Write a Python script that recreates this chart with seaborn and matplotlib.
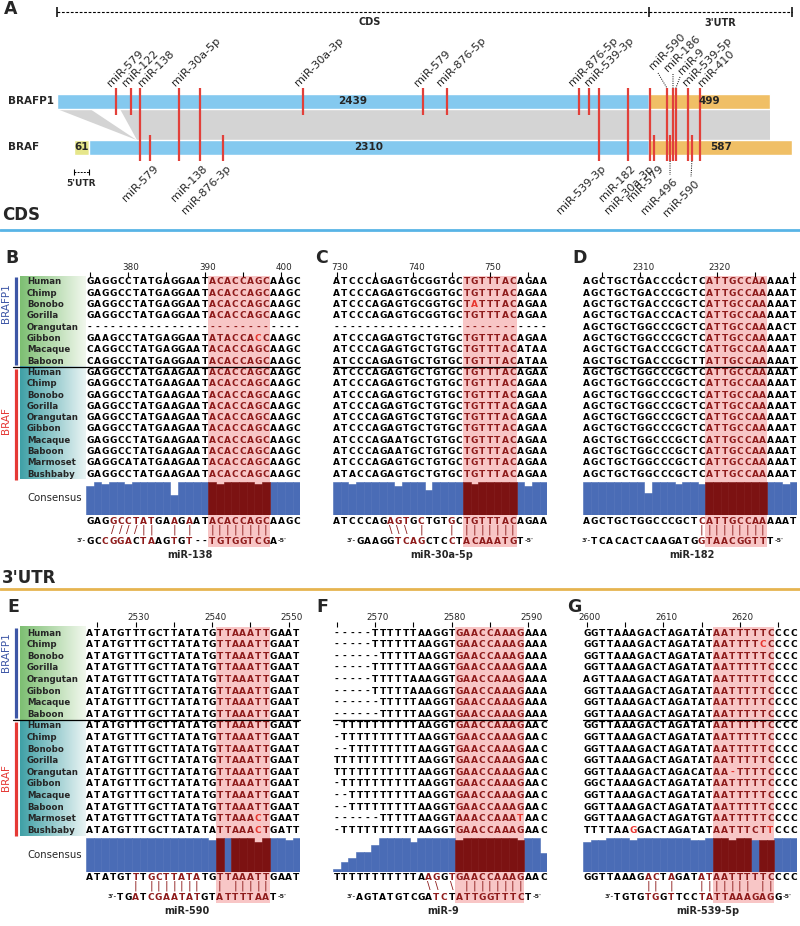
import numpy as np
import pandas as pd
import matplotlib
matplotlib.use("Agg")
import matplotlib.pyplot as plt
import seaborn as sns
from matplotlib.patches import Rectangle, Polygon

sns.set_theme(style="white")
plt.rcParams['font.family'] = ['DejaVu Sans']

# ===================== DATA =====================
# ---- Panel A: transcript structure (nt) ----
braf_part_lengths = [61, 2310, 587]      # 5'UTR, CDS, 3'UTR
brafp1_part_lengths = [2439, 499]        # CDS-like, 3'UTR
brafp1_offset = -70                      # aligned start of BRAFP1 relative to BRAF (nt)

# miRNA sites in aligned (BRAF) nucleotide coordinates
sites_brafp1_only = [173, 235, 944, 1438, 1537, 2081, 2122]
sites_shared = [272, 433, 519, 2163, 2283, 2373, 2443, 2468, 2480, 2530, 2579]
sites_braf_only = [313, 614, 2390, 2456, 2546]
top_labels = ["miR-579", "miR-122", "miR-138", "miR-30a-5p", "miR-30a-3p", "miR-579",
              "miR-876-5p", "miR-876-5p", "miR-539-3p", "miR-590", "miR-186", "miR-9",
              "miR-539-5p", "miR-410"]
top_label_sites = [173, 235, 272, 433, 944, 1438, 1537, 2081, 2122, 2443, 2468, 2480, 2530, 2579]
bottom_labels = ["miR-579", "miR-138", "miR-876-3p", "miR-539-3p", "miR-182", "miR-30a-3p",
                 "miR-579", "miR-496", "miR-590"]
bottom_label_sites = [313, 519, 614, 2163, 2283, 2373, 2390, 2456, 2546]

species_brafp1 = ["Human", "Chimp", "Bonobo", "Gorilla", "Orangutan", "Gibbon", "Macaque", "Baboon"]
species_braf = ["Human", "Chimp", "Bonobo", "Gorilla", "Orangutan", "Gibbon", "Macaque", "Baboon",
                "Marmoset", "Bushbaby"]

# ---- Panel B (miR-138) ----
b_brafp1 = ["GAGGCCTATGAGGAATACACCAGCAAGC", "GAGGCCTATGAGGAATACACCAGCAAGC",
            "GAGGCCTATGAGGAATACACCAGCAAGC", "GAGGCCTATGAGGAATACACCAGCAAGC",
            "----------------------------", "GAAGCCTATGAGGAATATACCACCAAGC",
            "CAGGCCTATGAGGAATACACCAGCAAGC", "CAGGCCTATGAGGAATACACCAGCAAGC"]
b_braf = ["GAGGCCTATGAAGAATACACCAGCAAGC", "GAGGCCTATGAAGAATACACCAGCAAGC",
          "GAGGCCTATGAAGAATACACCAGCAAGC", "GAGGCCTATGAAGAATACACCAGCAAGC",
          "GAGGCCTATGAAGAATACACCAGCAAGC", "GAGGCCTATGAAGAATACACCAGCAAGC",
          "GAGGCCTATGAAGAATACACCAGCAAGC", "GAGGCCTATGAAGAATACACCAGCAAGC",
          "GAGGCATATGAAGAATACACCAGCAAGC", "GAGGCCTATGAAGAATACACCAGCAAGC"]
b_consensus = "GAGGCCTATGAAGAATACACCAGCAAGC"
b_conservation = [0.88, 1, 0.94, 1, 1, 0.94, 1, 1, 1, 1, 1, 0.59, 1, 1, 1, 1, 1, 0.94, 1, 1,
                  1, 1, 0.94, 1, 1, 1, 1, 1]
b_seed_cols = [16, 17, 18, 19, 20, 21, 22, 23]
b_pairs = "   ////||  | |  ||||||||    "
b_mirna = "GCCGGACTAAGTGT--TGTGGTCGA   "
b_name = "miR-138"
b_first_pos = 375
b_red = [(5, 22)]

# ---- Panel C (miR-30a-5p) ----
c_brafp1 = ["ATCCCAGAGTGCGGTGCTGTTTACAGAA", "ATCCCAGAGTGCGGTGCTGTTTACAGAA",
            "ATCCCAGAGTGCGGTGCTATTTACAGAA", "ATCCCAGAGTGCGGTGCTGTTTACAGAA",
            "----------------------------", "ATCCCAGAGTGCTGTGCTGTTTACAGAA",
            "ATCCCAGAGTGCTGTGCTGTTTACATAA", "ATCCCAGAGTGCTGTGCTGTTTACATAA"]
c_braf = ["ATCCCAGAGTGCTGTGCTGTTTACAGAA", "ATCCCAGAGTGCTGTGCTGTTTACAGAA",
          "ATCCCAGAGTGCTGTGCTGTTTACAGAA", "ATCCCAGAGTGCTGTGCTGTTTACAGAA",
          "ATCCCAGAGTGCTGTGCTGTTTACAGAA", "ATCCCAGAGTGCTGTGCTGTTTACAGAA",
          "ATCCCAGAATGCTGTGCTGTTTACAGAA", "ATCCCAGAATGCTGTGCTGTTTACAGAA",
          "ATCCCAGAGTGCTGTGCTGTTTACAGAA", "ATACCAGAGTGCTGTGCTGTTTACAGAA"]
c_consensus = "ATCCCAGAGTGCTGTGCTGTTTACAGAA"
c_conservation = [1, 1, 0.94, 1, 1, 1, 1, 1, 0.88, 1, 1, 1, 0.76, 1, 1, 1, 1, 1, 0.94, 1,
                  1, 1, 1, 1, 1, 0.88, 1, 1]
c_seed_cols = [17, 18, 19, 20, 21, 22, 23]
c_pairs = r"       \\\ |   | |||||||    "
c_mirna = "   GAAGGTCAGCTCCTACAAATGT   "
c_name = "miR-30a-5p"
c_first_pos = 730
c_red = [(2, 18)]

# ---- Panel D (miR-182) ----
d_brafp1 = ["AGCTGCTGACCCGCTCATTGCCAAAAAT", "AGCTGCTGACCCGCTCATTGCCAAAAAT",
            "AGCTGCTGACCCGCTCATTGCCAAAAAT", "AGCTGCTGACCCACTCATTGCCAAAAAT",
            "AGCTGCTGGCCCGCTCATTGCCAAAACT", "AGCTGCTGGCCCGCTCATTGCCAAAAAT",
            "AGCTGCTGACCCGCTCATTGCCAAAAAT", "AGCTGCTGACCCGCTTATTGCCAAAAAT"]
d_braf = ["AGCTGCTGGCCCGCTCATTGCCAAAAAT", "AGCTGCTGGCCCGCTCATTGCCAAAAAT",
          "AGCTGCTGGCCCGCTCATTGCCAAAAAT", "AGCTGCTGGCCCGCTCATTGCCAAAAAT",
          "AGCTGCTGGCCCGCTCATTGCCAAAAAT", "AGCTGCTGGCCCGCTCATTGCCAAAAAT",
          "AGCTGCTGGCCCGCTCATTGCCAAAAAT", "AGCTGCTGGCCCGCTCATTGCCAAAAAT",
          "AGCTGCTGGCCCGCTCATTGCCAAAAAT", "AGCTGCTGGCCCGCTCATTGCCAAAAAT"]
d_consensus = "AGCTGCTGGCCCGCTCATTGCCAAAAAT"
d_conservation = [1, 1, 1, 1, 1, 1, 1, 1, 0.67, 1, 1, 1, 0.94, 1, 1, 0.94, 1, 1, 1, 1,
                  1, 1, 1, 1, 1, 1, 0.94, 1]
d_seed_cols = [16, 17, 18, 19, 20, 21, 22, 23]
d_pairs = "               |||||||||    "
d_mirna = " TCACACTCAAGATGGTAACGGTTT   "
d_name = "miR-182"
d_first_pos = 2303
d_red = []

# ---- Panel E (miR-590) ----
e_brafp1 = ["ATATGTTTGCTTATATGTTAAATTGAAT"] * 0 + [
    "ATATGTTTGCTTATATGTTAAATTGAAT", "ATATGTTTGCTTATATGTTAAATTGAAT",
    "ATATGTTTGCTTATATGTTAAATTGAAT", "ATATGTTTGCTTATATGTTAAATTGAAT",
    "ATATGTTTGCTTATATGTTAAATTGAAT", "ATATGTTTGCTTATATGTTAAATTGAAT",
    "ATATGTTTGCTTATATGTTAAATTGAAT", "ATATGTTTGCTTATATGTTAAATTGAAT"]
e_braf = ["ATATGTTTGCTTATATGTTAAATTGAAT", "ATATGTTTGCTTATATGTTAAATTGAAT",
          "ATATGTTTGCTTATATGTTAAATTGAAT", "ATATGTTTGCTTATATGTTAAATTGAAT",
          "ATATGTTTGCTTATATGTTAAATTGAAT", "ATATGTTTGCTTATATGTTAAATTGAAT",
          "ATATGTTTGCTTATATGTTAAATTGAAT", "ATATGTTTGCTTATATGTTAAATTGAAT",
          "ATATGTTTGCTTATATGTTAAACTGAAT", "ATATGTTTGCTTATATATTAAACTGATT"]
e_consensus = "ATATGTTTGCTTATATGTTAAATTGAAT"
e_conservation = [1, 1, 1, 1, 1, 1, 1, 1, 1, 1, 1, 1, 1, 1, 1, 1, 0.94, 1, 1, 1,
                  1, 1, 0.89, 1, 1, 1, 0.94, 1]
e_seed_cols = [17, 19, 20, 21, 22, 23]
e_pairs = "      | |||||||  | |||||    "
e_mirna = "    TGATCGAATATGTATTTTAAT   "
e_name = "miR-590"
e_first_pos = 2524
e_red = [(16, 22), (17, 22)]

# ---- Panel F (miR-9) ----
f_brafp1 = ["-----TTTTTTAAGGTGAACCAAAGAAA", "-----TTTTTTAAGGTGAACCAAAGAAA",
            "------TTTTTAAGGTGAACCAAAGAAA", "-----TTTTTTAAGGTGAACCAAAGAAA",
            "-----TTTTTAAAGGTGAACCAAAGAAA", "-----TTTTTAAAGGTGAACCAAAGAAA",
            "------TTTTTAAGGTGAACCAAAGAAA", "------TTTTTAAGGTGAACCAAAGAAA"]
f_braf = ["-TTTTTTTTTTAAGGTGAACCAAAGAAC", "-TTTTTTTTTTAAGGTGAACCAAAGAAC",
          "--TTTTTTTTTAAGGTGAACCAAAGAAC", "TTTTTTTTTTTAAGGTGAACCAAAGAAC",
          "TTTTTTTTTTTAAGGTGAACCAAAGAAC", "-TTTTTTTTTTAAGGTGAACCAAAGAAC",
          "--TTTTTTTTTAAGGTGAACCAAAGAAC", "--TTTTTTTTTAAGGTGAACCAAAGAAC",
          "------TTTTTAAGGTAAACCAAATAAC", "-TTTTTTTTTTAAGGTGAACCAAAGAAC"]
f_consensus = "TTTTTTTTTTTAAGGTGAACCAAAGAAC"
f_conservation = [0.08, 0.28, 0.39, 0.59, 0.59, 0.8, 1, 1, 1, 1, 0.89, 1, 1, 1, 1, 1, 0.94, 1,
                  1, 1, 1, 1, 1, 1, 0.94, 1, 1, 0.56]
f_seed_cols = [16, 17, 18, 19, 20, 21, 22, 23, 24]
f_pairs = r"            \\ \ ||||||||   "
f_mirna = "   AGTATGTCGATCTATTGGTTTCT  "
f_name = "miR-9"
f_first_pos = 2565
f_red = [(16, 24)]

# ---- Panel G (miR-539-5p) ----
g_brafp1 = ["GGTTAAAGACTAGATATAATTTTTCCCC", "GGTTAAAGACTAGATATAATTTTCCCCC",
            "GGTTAAAGACTAGATATAATTTTTCCCC", "GGTTAAAGACTAGATATAATTTTTCCCC",
            "AGTTAAAGACTAGATATAATTTTTCCCC", "GGTTAAAGACTAGATATAATTTTTCCCC",
            "GGTTAAAGACTAGATATAATTTTTCCCC", "GGTTAAAGACTAGATATAATTTTTCCCC"]
g_braf = ["GGTTAAAGACTAGATATAATTTTTCCCC", "GGTTAAAGACTAGATATAATTTTTCCCC",
          "GGTTAAAGACTAGATATAATTTTTCCCC", "GGTTAAAGACTAGATATAATTTTTCCCC",
          "GGTTAAAGACTAGACATAA-TTTTCCCC", "GGCTAAAGACTAGATATAATTTTTCCCC",
          "GGTTAAAGACTAGATATAATTTTTCCCC", "GGTTAAAGACTAGATATAATTTTTCCCC",
          "GGTTAAAGACTAGATGTAATTTTTCCCC", "TTTTAAGGACTAGATATAATTTCTTCCC"]
g_consensus = "GGTTAAAGACTAGATATAATTTTTCCCC"
g_conservation = [0.89, 0.94, 0.94, 1, 1, 1, 0.94, 1, 1, 1, 1, 1, 1, 1, 0.94, 0.94, 1, 1,
                  1, 0.94, 1, 1, 0.94, 0.94, 0.94, 1, 1, 1]
g_seed_cols = [17, 18, 19, 20, 21, 23, 24]
g_pairs = "        || |   ||||||| ||   "
g_mirna = "    TGTGTGGTTCCTATTAAAGAGG  "
g_name = "miR-539-5p"
g_first_pos = 2600
g_red = [(1, 23), (12, 19), (17, 6), (17, 24)]

# ===================== STYLE =====================
BLUE_BAR = '#84C9EF'
ORANGE = '#F0BF66'
YELLOW = '#E6E68A'
GREY = '#D4D4D4'
RED_LINE = '#E2403A'
PINK = '#F8C6C6'
DARKRED = '#8E1B1B'
BRIGHT_RED = '#E8352E'
CONS_BLUE = '#4A6CB6'
CONS_DARK = '#7C1212'
P1_BLUE = '#3D56A6'
BRAF_RED = '#E53935'

W, H = 800, 926
fig = plt.figure(figsize=(W / 100, H / 100), dpi=100)


def px_axes(x0, x1, y0, y1):
    a = fig.add_axes([x0 / W, 1 - y1 / H, (x1 - x0) / W, (y1 - y0) / H])
    a.axis('off')
    return a


ax = px_axes(0, W, 0, H)

# ---------- left label boxes ----------
def hgrad(cl, cr, n=128):
    t = np.linspace(0, 1, n)[None, :, None]
    cl = np.array(matplotlib.colors.to_rgb(cl))
    cr = np.array(matplotlib.colors.to_rgb(cr))
    return (1 - t) * cl + t * cr


for (top, sep, bot, y0, dy, cy, p1y, bry) in [(276, 366.7, 479.5, 282, 11.3, 498, 303, 421),
                                              (627, 720.2, 836, 633, 11.6, 855, 652, 778)]:
    ax.imshow(hgrad('#7DBF72', '#F2F8EE'), extent=[20, 86, sep, top], aspect='auto', zorder=0)
    ax.imshow(hgrad('#3FA0A6', '#EAF4F4'), extent=[20, 86, bot, sep], aspect='auto', zorder=0)
    ax.plot([15.5, 15.5], [top + 1, sep - 2], color=P1_BLUE, lw=2.3, solid_capstyle='butt')
    ax.plot([15.5, 15.5], [sep + 2, bot], color=BRAF_RED, lw=2.3, solid_capstyle='butt')
    ax.text(6, p1y, "BRAFP1", rotation=90, color=P1_BLUE, fontsize=7.5, ha='center', va='center')
    ax.text(6, bry, "BRAF", rotation=90, color=BRAF_RED, fontsize=7.5, ha='center', va='center')
    for i, sp in enumerate(species_brafp1 + species_braf):
        ax.text(27, y0 + dy * i, sp, fontsize=6.2, fontweight='bold', ha='left', va='center')
    ax.text(27, cy, "Consensus", fontsize=7.3, ha='left', va='center')

ax.set_xlim(0, W)
ax.set_ylim(H, 0)

# ---------- section headers ----------
ax.text(2, 215.5, "CDS", fontsize=12, fontweight='bold', ha='left', va='center')
ax.plot([0, W], [229.5, 229.5], color='#58B4E6', lw=2)
ax.text(2, 578, "3'UTR", fontsize=12, fontweight='bold', ha='left', va='center')
ax.plot([0, W], [589, 589], color='#E6B450', lw=2)
for letter, lx, ly in [("A", 4, 9), ("B", 5, 258), ("C", 315, 258), ("D", 572, 258),
                       ("E", 7, 607), ("F", 316, 607), ("G", 567, 607)]:
    ax.text(lx, ly, letter, fontsize=12.5, fontweight='bold', ha='left', va='center')

# ===================== PANEL A =====================
S = 0.2427   # px per nt
A_X0 = 74    # px of BRAF nt 0
axA = px_axes(0, W, 0, 240)
axA.set_xlim(-A_X0 / S, (W - A_X0) / S)
axA.set_ylim(240, 0)
dpx = lambda p: p / S

braf_lefts = np.concatenate([[0], np.cumsum(braf_part_lengths)[:-1]])
p1_lefts = brafp1_offset + np.concatenate([[0], np.cumsum(brafp1_part_lengths)[:-1]])
cds_end = braf_lefts[2]
braf_end = braf_lefts[-1] + braf_part_lengths[-1]
p1_end = p1_lefts[-1] + brafp1_part_lengths[-1]

# dashed region ruler
axA.plot([brafp1_offset, cds_end], [11.7, 11.7], color='black', lw=0.8, ls=(0, (2.5, 1.5)))
axA.plot([cds_end, braf_end], [11.7, 11.7], color='black', lw=0.8, ls=(0, (2.5, 1.5)))
axA.vlines([brafp1_offset, cds_end, braf_end], 7, 16.5, color='black', lw=1.1)
axA.text((brafp1_offset + cds_end) / 2 + dpx(16), 22, "CDS", fontsize=7, fontweight='bold',
         ha='center', va='center')
axA.text((cds_end + braf_end) / 2, 22.5, "3'UTR", fontsize=7, fontweight='bold',
         ha='center', va='center')

# grey homology band
axA.add_patch(Polygon([(brafp1_offset, 109), (66, 109), (258, 140)], closed=True,
                      facecolor=GREY, edgecolor='none', zorder=1))
axA.add_patch(Polygon([(190, 109), (p1_end, 109), (p1_end, 140), (258, 140)], closed=True,
                      facecolor=GREY, edgecolor='none', zorder=1))

# transcript bars
axA.barh([101.5] * 2, brafp1_part_lengths, left=p1_lefts, height=15,
         color=[BLUE_BAR, ORANGE], zorder=2)
axA.barh([147.5] * 3, braf_part_lengths, left=braf_lefts, height=15,
         color=[YELLOW, BLUE_BAR, ORANGE], zorder=2)
axA.text(-28, 101.5, "BRAFP1", fontsize=7.5, fontweight='bold', ha='left', va='center',
         transform=axA.transData) if False else None
axA.text(brafp1_offset - dpx(49), 101.5, "BRAFP1", fontsize=7.5, fontweight='bold',
         ha='left', va='center')
axA.text(-dpx(66), 147.5, "BRAF", fontsize=7.5, fontweight='bold', ha='left', va='center')
axA.text(p1_lefts[0] + brafp1_part_lengths[0] / 2, 101.5, str(brafp1_part_lengths[0]),
         fontsize=7.5, fontweight='bold', ha='center', va='center', zorder=4)
axA.text(p1_lefts[1] + brafp1_part_lengths[1] / 2, 101.5, str(brafp1_part_lengths[1]),
         fontsize=7.5, fontweight='bold', ha='center', va='center', zorder=4)
for l, w in zip(braf_lefts, braf_part_lengths):
    axA.text(l + w / 2, 147.5, str(w), fontsize=7.5, fontweight='bold', ha='center',
             va='center', zorder=4)

# 5'UTR bracket
axA.plot([0, braf_part_lengths[0]], [171.7, 171.7], color='black', lw=0.7, ls=(0, (2, 1.2)))
axA.vlines([0, braf_part_lengths[0]], 168.5, 175, color='black', lw=0.8)
axA.text(braf_part_lengths[0] / 2, 183, "5'UTR", fontsize=6.5, fontweight='bold',
         ha='center', va='center')

# miRNA sites
axA.vlines(sites_brafp1_only, 88, 115, color=RED_LINE, lw=1.6, zorder=3)
axA.vlines(sites_shared, 88, 161, color=RED_LINE, lw=1.6, zorder=3)
axA.vlines(sites_braf_only, 135, 161, color=RED_LINE, lw=1.6, zorder=3)

top_dx = [-5, -5, 2, -4, -5, -5, -6, -6, 0, None, None, None, -1, 2]
lead_top = {9: ((653, 70), (658, 73)), 10: ((668, 72), (673, 74)), 11: ((682, 75), (680, 77))}
for i, (lab, site) in enumerate(zip(top_labels, top_label_sites)):
    if i in lead_top:
        (lx, ly), (sx, sy) = lead_top[i]
        axA.plot([(sx - A_X0) / S, site], [sy, 88], color='black', lw=0.7, ls=(0, (1, 1.3)))
        axA.text((lx - A_X0) / S, ly, lab, rotation=45, rotation_mode='anchor', ha='left',
                 va='baseline', fontsize=8)
    else:
        axA.text(site + dpx(top_dx[i]), 87, lab, rotation=45, rotation_mode='anchor',
                 ha='left', va='baseline', fontsize=8)

bot_dx = [3, 2, 3, 1, 2, -2, 4, None, None]
lead_bot = {7: ((672, 176), (670, 175)), 8: ((694, 179), (691, 177))}
for i, (lab, site) in enumerate(zip(bottom_labels, bottom_label_sites)):
    if i in lead_bot:
        (lx, ly), (sx, sy) = lead_bot[i]
        axA.plot([site, (sx - A_X0) / S], [161, sy], color='black', lw=0.7, ls=(0, (1, 1.3)))
        axA.text((lx - A_X0) / S, ly, lab, rotation=45, rotation_mode='anchor', ha='right',
                 va='top', fontsize=8)
    else:
        axA.text(site + dpx(bot_dx[i]), 163.5, lab, rotation=45, rotation_mode='anchor',
                 ha='right', va='top', fontsize=8)

# ===================== ALIGNMENT PANELS =====================
CW = 7.65
NCOL = 28
top_layout = dict(y0=282, dy=11.3, tlab=267, tick=(272, 277), hl=(276, 547), sep=366.7,
                  cons=(481.5, 33.5), cseq=521, pair=530, mir=541, name=555)
bot_layout = dict(y0=633, dy=11.6, tlab=617, tick=(622, 627), hl=(627, 903), sep=720.2,
                  cons=(838, 33.5), cseq=877, pair=886, mir=897, name=911)

panels = [
    (86, top_layout, b_brafp1, b_braf, b_consensus, b_conservation, b_seed_cols, b_pairs,
     b_mirna, b_name, b_first_pos, b_red, (16, 23), 190, True),
    (333, top_layout, c_brafp1, c_braf, c_consensus, c_conservation, c_seed_cols, c_pairs,
     c_mirna, c_name, c_first_pos, c_red, (17, 23), 442, False),
    (583, top_layout, d_brafp1, d_braf, d_consensus, d_conservation, d_seed_cols, d_pairs,
     d_mirna, d_name, d_first_pos, d_red, (16, 23), 692, False),
    (86, bot_layout, e_brafp1, e_braf, e_consensus, e_conservation, e_seed_cols, e_pairs,
     e_mirna, e_name, e_first_pos, e_red, (17, 23), 187, True),
    (333, bot_layout, f_brafp1, f_braf, f_consensus, f_conservation, f_seed_cols, f_pairs,
     f_mirna, f_name, f_first_pos, f_red, (16, 24), 443, False),
    (583, bot_layout, g_brafp1, g_braf, g_consensus, g_conservation, g_seed_cols, g_pairs,
     g_mirna, g_name, g_first_pos, g_red, (17, 24), 708, False),
]

seq_axes = []
for (x0, L, p1, br, cons_seq, cons_vals, seed, pairs, mir, name, first, red, hl,
     name_x, is_left) in panels:
    axS = px_axes(x0, x0 + NCOL * CW, 0, H)
    axS.set_xlim(-0.5, NCOL - 0.5)
    axS.set_ylim(H, 0)
    hl_cols = set(range(hl[0], hl[1] + 1))
    # highlight
    axS.add_patch(Rectangle((hl[0] - 0.5, L['hl'][0]), hl[1] - hl[0] + 1,
                            L['hl'][1] - L['hl'][0], facecolor=PINK, edgecolor='none', zorder=0))
    # ruler
    for c in range(NCOL):
        pos = first + c
        if pos % 5 == 0:
            axS.vlines(c, L['tick'][0], L['tick'][1], color='black', lw=0.8)
        if pos % 10 == 0 and c <= 26:
            axS.text(c + 3 / CW, L['tlab'], str(pos), fontsize=6.3, ha='center', va='center')
    # rows
    rows = p1 + br
    redset = set(red)
    for i, row in enumerate(rows):
        y = L['y0'] + L['dy'] * i
        for c, ch in enumerate(row):
            if (i, c) in redset:
                col = BRIGHT_RED
            elif c in hl_cols:
                col = DARKRED
            else:
                col = 'black'
            axS.text(c, y, ch, fontsize=6.5, fontweight='bold', color=col, ha='center',
                     va='center', zorder=3)
    # separator
    sep_left = (13 - x0) / CW - 0.5 if is_left else -0.5
    axS.plot([sep_left, NCOL - 0.5], [L['sep'], L['sep']], color='black', lw=0.9,
             clip_on=False, zorder=4)
    # pairing
    pair_cols = set()
    mir_cols = set()
    for c, sym in enumerate(pairs):
        if sym == ' ':
            continue
        pair_cols.add(c)
        mir_cols.add(c - 1 if sym == '/' else (c + 1 if sym == '\\' else c))
        axS.text(c, L['pair'], sym, fontsize=7.5, color=DARKRED, ha='center', va='center')
    for c, ch in enumerate(cons_seq):
        col = DARKRED if (c in pair_cols or c in hl_cols) else 'black'
        axS.text(c, L['cseq'], ch, fontsize=6.5, fontweight='bold', color=col, ha='center',
                 va='center', zorder=3)
    idx = [c for c, ch in enumerate(mir) if ch != ' ']
    for c in idx:
        col = DARKRED if (c in mir_cols or c in hl_cols) else 'black'
        axS.text(c, L['mir'], mir[c], fontsize=6.5, fontweight='bold', color=col,
                 ha='center', va='center', zorder=3)
    axS.text(idx[0] - 0.55, L['mir'], "3'-", fontsize=4.6, fontweight='bold', ha='right',
             va='center')
    axS.text(idx[-1] + 0.55, L['mir'], "-5'", fontsize=4.6, fontweight='bold', ha='left',
             va='center')
    axS.text((name_x - x0) / CW - 0.5, L['name'], name, fontsize=7, fontweight='bold',
             ha='center', va='center')
    seq_axes.append((axS, x0, L, cons_vals, seed))

# consensus conservation bars (seaborn)
for axS, x0, L, cons_vals, seed in seq_axes:
    ct, ch = L['cons']
    axC = px_axes(x0, x0 + NCOL * CW, ct, ct + ch)
    df = pd.DataFrame({"col": list(range(NCOL)), "conservation": cons_vals,
                       "kind": ["seed" if c in seed else "other" for c in range(NCOL)]})
    sns.barplot(data=df, x="col", y="conservation", hue="kind", order=list(range(NCOL)),
                palette={"seed": CONS_DARK, "other": CONS_BLUE}, dodge=False, width=1.0,
                saturation=1, errorbar=None, legend=False, ax=axC)
    for p in axC.patches:
        p.set_edgecolor(p.get_facecolor())
        p.set_linewidth(0.4)
    axC.set_xlim(-0.5, NCOL - 0.5)
    axC.set_ylim(0, 1)
    axC.axis('off')

fig.savefig("out.png", dpi=100)
